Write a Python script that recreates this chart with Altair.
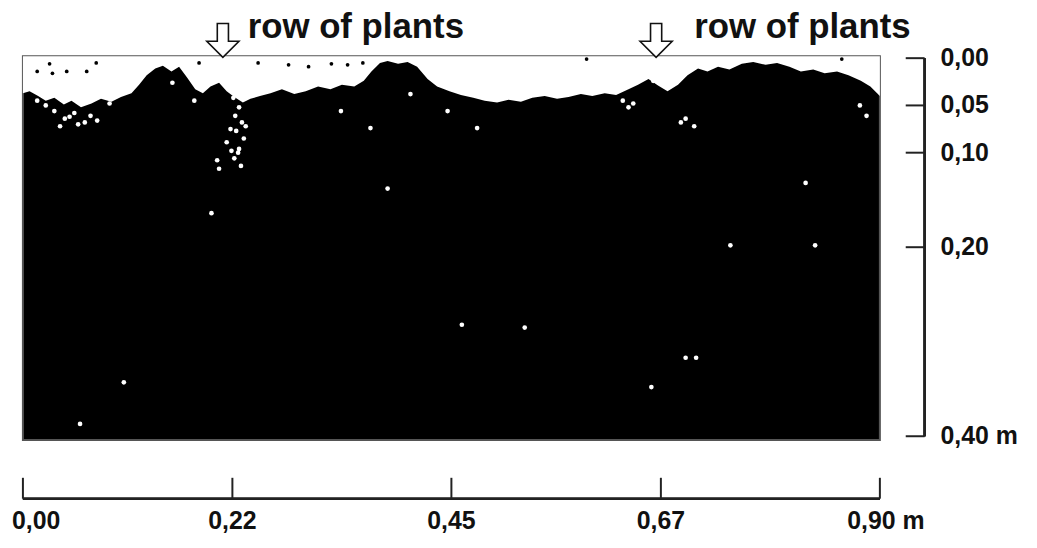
import altair as alt
import pandas as pd

# ---- soil surface profile: distance (m) and depth of the dark soil top (m)
prof_x = [0.000, 0.007, 0.016, 0.024, 0.033, 0.043, 0.051, 0.061, 0.072, 0.082,
          0.093, 0.103, 0.114, 0.122, 0.130, 0.139, 0.147, 0.156, 0.164, 0.172,
          0.181, 0.189, 0.197, 0.206, 0.214, 0.222, 0.231, 0.239, 0.249, 0.260,
          0.272, 0.285, 0.297, 0.310, 0.323, 0.335, 0.348, 0.358, 0.366, 0.375,
          0.383, 0.394, 0.404, 0.414, 0.425, 0.435, 0.448, 0.460, 0.473, 0.485,
          0.498, 0.510, 0.523, 0.535, 0.548, 0.561, 0.573, 0.586, 0.598, 0.611,
          0.623, 0.636, 0.646, 0.657, 0.667, 0.677, 0.688, 0.698, 0.709, 0.719,
          0.730, 0.742, 0.755, 0.767, 0.780, 0.792, 0.805, 0.817, 0.830, 0.842,
          0.855, 0.867, 0.880, 0.890, 0.900]
prof_d = [0.037, 0.035, 0.040, 0.045, 0.042, 0.049, 0.045, 0.052, 0.048, 0.043,
          0.046, 0.041, 0.037, 0.028, 0.018, 0.011, 0.008, 0.014, 0.009, 0.020,
          0.033, 0.037, 0.030, 0.026, 0.035, 0.041, 0.047, 0.043, 0.040, 0.037,
          0.033, 0.038, 0.035, 0.030, 0.033, 0.028, 0.030, 0.024, 0.014, 0.005,
          0.003, 0.006, 0.004, 0.009, 0.022, 0.030, 0.035, 0.039, 0.042, 0.045,
          0.047, 0.044, 0.046, 0.042, 0.040, 0.043, 0.041, 0.038, 0.040, 0.037,
          0.039, 0.033, 0.028, 0.022, 0.029, 0.035, 0.028, 0.018, 0.011, 0.014,
          0.009, 0.012, 0.006, 0.004, 0.007, 0.005, 0.009, 0.014, 0.012, 0.016,
          0.014, 0.018, 0.024, 0.030, 0.040]

# ---- white pores / gaps inside the dark soil
white_x = [0.015, 0.033, 0.044, 0.054, 0.065, 0.039, 0.091, 0.157, 0.180,
           0.221, 0.227, 0.223, 0.230, 0.224, 0.232, 0.227, 0.222, 0.229, 0.206,
           0.204, 0.214, 0.334, 0.365, 0.407, 0.446, 0.477, 0.630, 0.641, 0.662,
           0.696, 0.705, 0.691, 0.879, 0.886, 0.383, 0.527, 0.660, 0.060, 0.696,
           0.707, 0.743, 0.822, 0.832, 0.461, 0.198, 0.106,
           0.024, 0.049, 0.058, 0.071, 0.078, 0.218, 0.234, 0.226, 0.219, 0.636]
white_d = [0.045, 0.056, 0.064, 0.058, 0.068, 0.072, 0.048, 0.026, 0.045,
           0.042, 0.052, 0.061, 0.068, 0.077, 0.085, 0.096, 0.106, 0.114, 0.117,
           0.108, 0.089, 0.056, 0.074, 0.038, 0.056, 0.074, 0.045, 0.048, 0.024,
           0.064, 0.072, 0.068, 0.050, 0.061, 0.138, 0.285, 0.348, 0.387, 0.317,
           0.317, 0.198, 0.132, 0.198, 0.282, 0.164, 0.343,
           0.050, 0.062, 0.070, 0.061, 0.066, 0.075, 0.072, 0.100, 0.098, 0.052]

# ---- dark specks inside the white top layer
black_x = [0.015, 0.028, 0.031, 0.046, 0.067, 0.077, 0.185, 0.247, 0.279,
           0.300, 0.324, 0.341, 0.357, 0.592, 0.860]
black_d = [0.014, 0.006, 0.016, 0.014, 0.014, 0.005, 0.005, 0.005, 0.007,
           0.009, 0.006, 0.007, 0.005, 0.001, 0.001]

depth_ticks = [0.00, 0.05, 0.10, 0.20, 0.40]
depth_labels = ["0,00", "0,05", "0,10", "0,20", "0,40 m"]
dist_ticks = [0.00, 0.22, 0.45, 0.67, 0.90]
dist_labels = ["0,00", "0,22", "0,45", "0,67", "0,90 m"]
arrow_x = [0.21, 0.665]
label_x = [0.236, 0.705]
row_labels = ["row of plants", "row of plants"]

W, H = 862, 386
FONT = "Liberation Sans"
INK = "#222222"

xs = alt.Scale(domain=[0, 0.9], nice=False, zero=False)
ys = alt.Scale(domain=[-0.002, 0.404], nice=False, zero=False, reverse=True)

prof = pd.DataFrame({"x": prof_x, "d": prof_d})
wdf = pd.DataFrame({"x": white_x, "d": white_d})
bdf = pd.DataFrame({"x": black_x, "d": black_d})
ddf = pd.DataFrame({"d": depth_ticks, "label": depth_labels})
xdf = pd.DataFrame({"x": dist_ticks, "label": dist_labels})
adf = pd.DataFrame({"x": arrow_x, "lx": label_x, "label": row_labels})

X = lambda f: alt.X(f, scale=xs, axis=None)
Y = lambda f: alt.Y(f, scale=ys, axis=None)

white_top = alt.Chart(prof).mark_area(color="white", interpolate="linear").encode(
    x=X("x:Q"), y=Y("d:Q"), y2=alt.Y2Datum(-0.002)
)
pores = alt.Chart(wdf).mark_circle(color="white", size=22, opacity=1).encode(
    x=X("x:Q"), y=Y("d:Q")
)
specks = alt.Chart(bdf).mark_circle(color="black", size=14, opacity=1).encode(
    x=X("x:Q"), y=Y("d:Q")
)

# right (depth) axis
r_line = alt.Chart(ddf).mark_rule(color=INK, strokeWidth=2).encode(
    x=alt.value(907),
    y=alt.YDatum(depth_ticks[0], scale=ys, axis=None),
    y2=alt.Y2Datum(depth_ticks[-1]),
)
r_ticks = alt.Chart(ddf).mark_rule(color=INK, strokeWidth=2).encode(
    y=Y("d:Q"), x=alt.value(888), x2=alt.value(907)
)
r_labels = alt.Chart(ddf).mark_text(
    align="left", baseline="middle", fontSize=25, fontWeight="bold", font=FONT, color="#111"
).encode(y=Y("d:Q"), x=alt.value(923), text="label:N")

# bottom (distance) axis
LBL_Y = 467
b_line = alt.Chart(xdf).mark_rule(color=INK, strokeWidth=2).encode(
    x=alt.XDatum(dist_ticks[0], scale=xs, axis=None),
    x2=alt.X2Datum(dist_ticks[-1]),
    y=alt.value(445),
)
b_ticks = alt.Chart(xdf).mark_rule(color=INK, strokeWidth=2).encode(
    x=X("x:Q"), y=alt.value(424), y2=alt.value(445)
)
b_first = alt.Chart(xdf.iloc[:1]).mark_text(
    align="left", baseline="middle", dx=-11, fontSize=25, fontWeight="bold", font=FONT, color="#111"
).encode(x=X("x:Q"), y=alt.value(LBL_Y), text="label:N")
b_mid = alt.Chart(xdf.iloc[1:4]).mark_text(
    align="center", baseline="middle", fontSize=25, fontWeight="bold", font=FONT, color="#111"
).encode(x=X("x:Q"), y=alt.value(LBL_Y), text="label:N")
b_last = alt.Chart(xdf.iloc[4:]).mark_text(
    align="center", baseline="middle", dx=6, fontSize=25, fontWeight="bold", font=FONT, color="#111"
).encode(x=X("x:Q"), y=alt.value(LBL_Y), text="label:N")

# row-of-plants arrows
ARROW = "M-0.33,-1L0.33,-1L0.33,0.05L0.95,0.05L0,1L-0.95,0.05L-0.33,0.05Z"
arrows = alt.Chart(adf).mark_point(
    shape=ARROW, size=1156, filled=True, fill="white", stroke="#111",
    strokeWidth=1.6, opacity=1
).encode(x=X("x:Q"), y=alt.value(-16))
arrow_text = alt.Chart(adf).mark_text(
    align="left", baseline="alphabetic", fontSize=35, fontWeight="bold", font=FONT, color="#111"
).encode(x=X("lx:Q"), y=alt.value(-18), text="label:N")

chart = alt.layer(
    white_top, pores, specks,
    r_line, r_ticks, r_labels,
    b_line, b_ticks, b_first, b_mid, b_last,
    arrows, arrow_text,
).properties(
    width=W, height=H,
    autosize=alt.AutoSizeParams(type="none"),
    padding={"left": 15, "top": 47, "right": 150, "bottom": 99},
).configure_view(fill="black", stroke="#555555", strokeWidth=2)

chart.save("out.html", embed_options={"renderer": "svg", "actions": False})
